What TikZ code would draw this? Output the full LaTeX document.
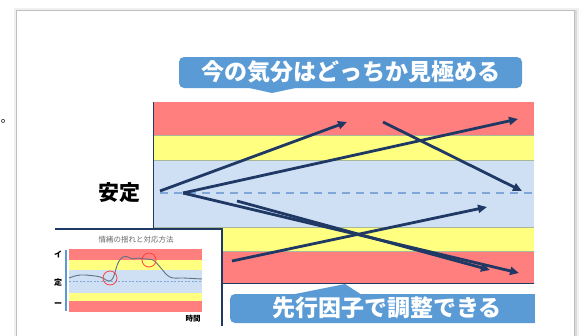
\documentclass[tikz,border=0pt]{standalone}
\usepackage{fontspec}
\newfontfamily\jp{Noto Sans CJK JP}
\usetikzlibrary{arrows.meta}
\definecolor{bandred}{HTML}{FF7F7F}
\definecolor{bandyel}{HTML}{FFFF80}
\definecolor{bandblu}{HTML}{CFE0F4}
\definecolor{navy}{HTML}{1F3864}
\definecolor{callblue}{HTML}{5B9BD5}
\definecolor{dashblu}{HTML}{7FA8D8}
\definecolor{sepline}{HTML}{A8B89A}
\definecolor{curvegray}{HTML}{5E7482}
\begin{document}
\begin{tikzpicture}[x=1pt,y=-1pt,
  arr/.style={draw=navy,line width=2.8pt,-{Triangle[length=9pt,width=8pt]}},
  sep/.style={draw=sepline,line width=0.5pt},
  calltext/.style={text=white,font=\jp\bfseries\fontsize{23}{23}\selectfont,inner sep=0pt},
  ring/.style={draw=red!75!white,line width=0.8pt}]
\useasboundingbox (0,0) rectangle (584,335);
% slide frame with soft shadow
\fill[gray!12] (14,8) rectangle (579,340);
\fill[gray!28] (16,10) rectangle (577,340);
\fill[white,draw=gray!50,line width=0.6pt] (16,10) rectangle (574,340);
\node[font=\jp\fontsize{12}{12}\selectfont,inner sep=0pt] (dot) at (7,121) {。};
% main chart bands
\fill[bandred] (153,102) rectangle (534,135);
\fill[bandyel] (153,135) rectangle (534,160);
\fill[bandblu] (153,160) rectangle (534,227);
\fill[bandyel] (153,227) rectangle (534,251);
\fill[bandred] (153,251) rectangle (534,283);
\draw[sep] (153,135) -- (534,135);
\draw[sep] (153,160) -- (534,160);
\draw[sep] (153,227) -- (534,227);
\draw[sep] (153,251) -- (534,251);
\draw[dashblu,line width=1.8pt,dash pattern=on 8pt off 6pt] (160,193) -- (534,193);
\draw[navy,line width=1pt] (153,102) -- (153,229);
\draw[navy,line width=1pt] (222,283) -- (534,283);
\node[font=\jp\bfseries\fontsize{21}{21}\selectfont,inner sep=0pt] (stable) at (119,193) {安定};
% top callout
\fill[callblue,rounded corners=5pt] (179,57) rectangle (522,88);
\fill[callblue] (245,87) .. controls (258,90) .. (272,93) .. controls (286,90) .. (300,87) -- cycle;
\node[calltext] (top) at (351,72) {今の気分はどっちか見極める};
% bottom callout
\fill[callblue,rounded corners=5pt] (230,294) rectangle (545,323);
\fill[callblue] (290,295) -- (345,284) -- (362,295) -- cycle;
\fill[white] (535,290) rectangle (546,326);
\node[calltext] (bot) at (387,308) {先行因子で調整できる};
% arrows
\coordinate (a0) at (160,191); \coordinate (a1) at (347,122);
\coordinate (p) at (183,193);
\coordinate (b1) at (518,119);
\coordinate (c0) at (383,122); \coordinate (c1) at (522,191);
\coordinate (d0) at (232,261); \coordinate (d1) at (487,207);
\coordinate (e1) at (519,273);
\coordinate (f0) at (237,201); \coordinate (f1) at (490,270);
\draw[arr] (a0) -- (a1);
\draw[arr] (p) -- (b1);
\draw[arr] (c0) -- (c1);
\draw[arr] (d0) -- (d1);
\draw[arr] (p) -- (e1);
\draw[arr] (f0) -- (f1);
% inset
\fill[white] (55,229) rectangle (222,336);
\draw[navy,line width=1.2pt] (55,229) -- (222,229) -- (222,326);
\node[font=\jp\fontsize{7.5}{7.5}\selectfont,text=gray!80!black,inner sep=0pt] (ititle) at (136,240) {情緒の揺れと対応方法};
\fill[bandred] (69,249) rectangle (202,260);
\fill[bandyel] (69,260) rectangle (202,270);
\fill[bandblu] (69,270) rectangle (202,293);
\fill[bandyel] (69,293) rectangle (202,301);
\fill[bandred] (69,301) rectangle (202,312);
\draw[dashblu,line width=0.5pt,dash pattern=on 2pt off 1.5pt] (69,281) -- (202,281);
\draw[callblue,line width=2pt] (66,250) -- (66,311);
\node[font=\jp\bfseries\fontsize{8}{8}\selectfont,inner sep=0pt] (l1) at (58,254) {イ};
\node[font=\jp\bfseries\fontsize{8}{8}\selectfont,inner sep=0pt] (l2) at (58,282) {定};
\node[font=\jp\bfseries\fontsize{8}{8}\selectfont,inner sep=0pt] (l3) at (58,305) {ー};
\node[font=\jp\bfseries\fontsize{7.5}{7.5}\selectfont,inner sep=0pt] (time) at (193,319) {時間};
\draw[curvegray,line width=0.9pt] plot[smooth,tension=0.6] coordinates {(69,278) (80,275) (95,276) (103,278) (108,281) (113,278) (118,263) (123,257) (128,257) (133,259) (138,258) (145,259) (153,260) (160,267) (167,275) (173,278) (183,278) (202,279)};
\draw[ring] (110,278) circle (7);
\draw[ring] (149,260) circle (7);
\end{tikzpicture}
\end{document}
